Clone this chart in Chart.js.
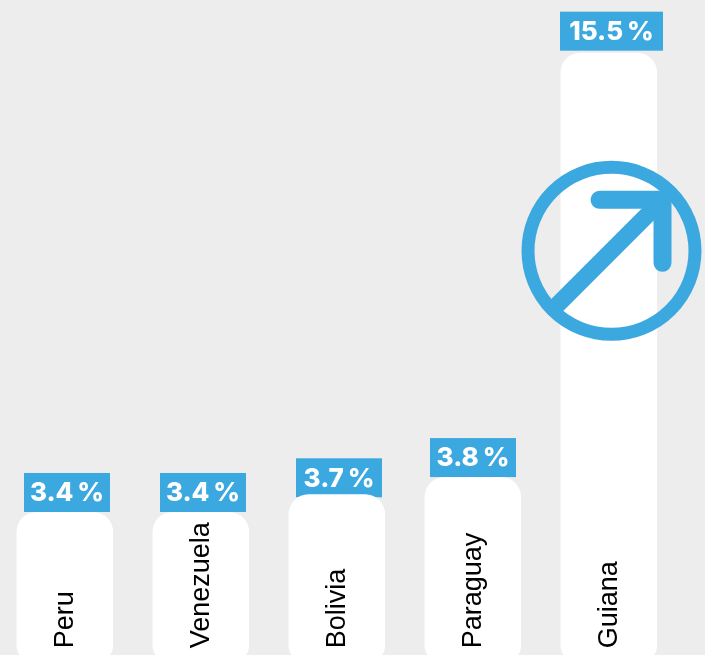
<!DOCTYPE html>
<html>
<head>
<meta charset="utf-8">
<style>
  html, body { margin: 0; padding: 0; background: #ededed; overflow: hidden; }
  #wrap { width: 709px; height: 680px; margin-left: -4px; }
</style>
<script src="https://cdn.jsdelivr.net/npm/chart.js@4"></script>
</head>
<body>
<div id="wrap"><canvas id="chart"></canvas></div>
<script>
const countries = ['Peru', 'Venezuela', 'Bolivia', 'Paraguay', 'Guiana'];
// printed percentages
const printedValues = [3.4, 3.4, 3.7, 3.8, 15.5];
// bar tops as drawn in the picture (the source is not strictly to scale)
const barValues = [3.4, 3.4, 3.866, 4.32, 15.5];
const risingCountry = 'Guiana';

const blue = '#3ca8e0';
// the tags are not quite centred on their bars in the source
const tagShiftX = [2.2, 2.2, 2.2, 0.2, 2.7];
const tagShiftY = [0, 0, 3, 0, -2];

function formatValue(v) {
  return v.toFixed(1) + '\u2009%';
}

// value tags sit behind the bars
const tagPlugin = {
  id: 'tags',
  beforeDatasetsDraw(chart) {
    const { ctx } = chart;
    ctx.save();
    chart.getDatasetMeta(0).data.forEach((bar, i) => {
      const text = formatValue(printedValues[i]);
      ctx.font = '800 26px Inter';
      const w = printedValues[i] >= 10 ? 103 : 86;
      const h = 39;
      const cx = bar.x + tagShiftX[i];
      const bottom = bar.y + tagShiftY[i];
      ctx.fillStyle = blue;
      ctx.fillRect(cx - w / 2, bottom - h, w, h);
      ctx.fillStyle = '#fff';
      ctx.textAlign = 'center';
      ctx.textBaseline = 'middle';
      ctx.fillText(text, cx, bottom - h / 2 + 1);
    });
    ctx.restore();
  }
};

// country names and the arrow badge go on top
const overlayPlugin = {
  id: 'overlay',
  afterDatasetsDraw(chart) {
    const { ctx } = chart;
    const bars = chart.getDatasetMeta(0).data;
    const y = chart.scales.y;

    bars.forEach((bar, i) => {
      ctx.save();
      ctx.translate(bar.x + 8, y.getPixelForValue(-0.19));
      ctx.rotate(-Math.PI / 2);
      ctx.font = '27px "Liberation Sans"';
      ctx.fillStyle = '#000';
      ctx.textAlign = 'left';
      ctx.textBaseline = 'alphabetic';
      ctx.fillText(countries[i], 0, 0);
      ctx.restore();
    });

    // rising arrow on the last bar
    const bar = bars[countries.indexOf(risingCountry)];
    const cx = bar.x + 2.7;
    const cy = y.getPixelForValue(10.28);
    ctx.save();
    ctx.strokeStyle = blue;
    ctx.lineWidth = 13;
    ctx.beginPath();
    ctx.arc(cx, cy, 83.5, 0, Math.PI * 2);
    ctx.stroke();

    ctx.lineWidth = 18;
    ctx.lineCap = 'round';
    ctx.lineJoin = 'miter';
    ctx.beginPath();
    ctx.moveTo(cx - 12, cy - 51);
    ctx.lineTo(cx + 51, cy - 51);
    ctx.lineTo(cx + 51, cy + 12);
    ctx.stroke();

    ctx.lineCap = 'butt';
    ctx.lineWidth = 17;
    ctx.beginPath();
    ctx.moveTo(cx + 48, cy - 48);
    ctx.lineTo(cx - 55, cy + 55);
    ctx.stroke();
    ctx.restore();
  }
};

new Chart(document.getElementById('chart'), {
  type: 'bar',
  data: {
    labels: countries,
    datasets: [{
      data: barValues,
      backgroundColor: '#ffffff',
      borderWidth: 0,
      borderRadius: 20,
      borderSkipped: false,
      base: -0.63,
      barPercentage: 0.71,
      categoryPercentage: 1
    }]
  },
  options: {
    responsive: true,
    maintainAspectRatio: false,
    animation: false,
    layout: { padding: { left: 0.8, right: 28.2, top: 0, bottom: 0 } },
    plugins: { legend: { display: false }, tooltip: { enabled: false } },
    scales: {
      x: { display: false },
      y: { display: false, min: -1.026, max: 16.888 }
    }
  },
  plugins: [tagPlugin, overlayPlugin]
});
</script>
</body>
</html>
